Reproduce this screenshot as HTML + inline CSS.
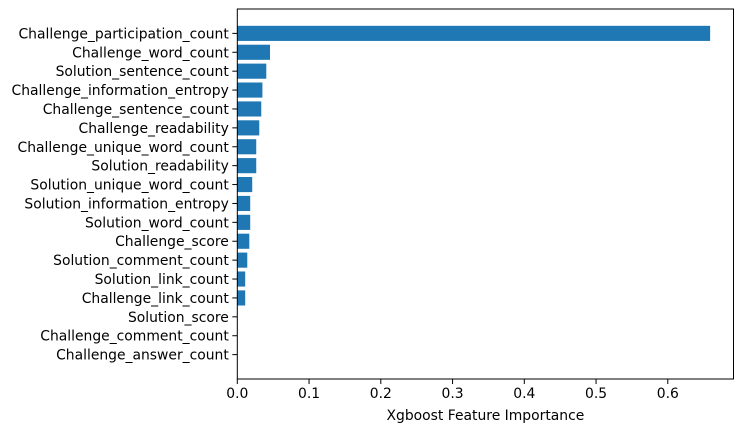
<!DOCTYPE html>
<html><head><meta charset="utf-8"><style>
body{margin:0;background:#fff;}
svg{display:block;font-family:"DejaVu Sans","Liberation Sans",sans-serif;}
</style></head><body>
<svg id="chart" width="743" height="432"></svg>
<script>
const categories=["Challenge_participation_count","Challenge_word_count","Solution_sentence_count","Challenge_information_entropy","Challenge_sentence_count","Challenge_readability","Challenge_unique_word_count","Solution_readability","Solution_unique_word_count","Solution_information_entropy","Solution_word_count","Challenge_score","Solution_comment_count","Solution_link_count","Challenge_link_count","Solution_score","Challenge_comment_count","Challenge_answer_count"];
const values=[0.659,0.0456,0.0404,0.035,0.0334,0.0306,0.0264,0.0264,0.0208,0.018,0.018,0.0167,0.0139,0.011,0.011,0,0,0];
const xTicks=[0,0.1,0.2,0.3,0.4,0.5,0.6];
const xTickLabels=["0.0","0.1","0.2","0.3","0.4","0.5","0.6"];
const NS="http://www.w3.org/2000/svg";
const svg=document.getElementById('chart');
const L=237.3,R=733.5,T=9,B=379;
const x=v=>L+v*717.5;
const step=(B-T)/(categories.length-1+0.8+0.89*2);
const y=i=>T+(0.4+0.89+i)*step;
function mk(t,a){const e=document.createElementNS(NS,t);for(const k in a)e.setAttribute(k,a[k]);svg.appendChild(e);return e;}
categories.forEach((c,i)=>{
  const r=mk('rect',{x:x(0),y:y(i)-0.4*step,width:x(values[i])-x(0),height:0.8*step,fill:'#1f77b4'});
  
  
  const tk=mk('line',{x1:L-5,x2:L,y1:y(i),y2:y(i),stroke:'#000','stroke-width':1});
  
  
  const t=mk('text',{x:L-8.5,y:y(i)+5,'text-anchor':'end','font-size':'13.9px',fill:'#000'});
  t.textContent=c;
  
  
});
xTicks.forEach((v,i)=>{
  const tk=mk('line',{x1:x(v),x2:x(v),y1:B,y2:B+5,stroke:'#000','stroke-width':1});
  
  
  const t=mk('text',{x:x(v),y:B+19,'text-anchor':'middle','font-size':'13.9px',fill:'#000'});
  t.textContent=xTickLabels[i];
  
  
});
const fr=mk('rect',{x:L,y:T,width:R-L,height:B-T,fill:'none',stroke:'#000','stroke-width':1});


const xl=mk('text',{x:(L+R)/2,y:420,'text-anchor':'middle','font-size':'13.9px',fill:'#000'});
xl.textContent='Xgboost Feature Importance';


</script>
</body></html>
